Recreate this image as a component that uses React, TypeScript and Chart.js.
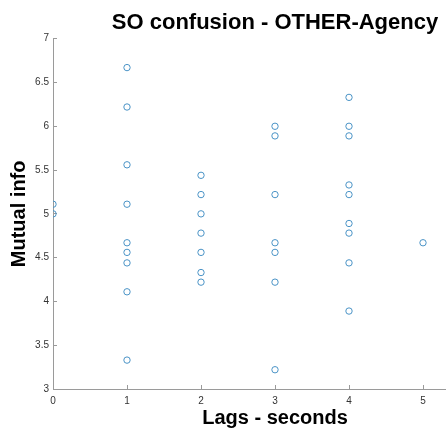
import React, { useEffect, useRef } from "react";
import { Chart, registerables } from "chart.js";

Chart.register(...registerables);

const TITLE = "SO confusion - OTHER-Agency";
const X_TITLE = "Lags - seconds";
const Y_TITLE = "Mutual info";

const lags = [
  0, 0,
  1, 1, 1, 1, 1, 1, 1, 1, 1,
  2, 2, 2, 2, 2, 2, 2,
  3, 3, 3, 3, 3, 3, 3,
  4, 4, 4, 4, 4, 4, 4, 4, 4,
  5,
];
const mutualInfo = [
  5.11, 5.0,
  6.67, 6.22, 5.56, 5.11, 4.67, 4.56, 4.44, 4.11, 3.33,
  5.44, 5.22, 5.0, 4.78, 4.56, 4.33, 4.22,
  6.0, 5.89, 5.22, 4.67, 4.56, 4.22, 3.22,
  6.33, 6.0, 5.89, 5.33, 5.22, 4.89, 4.78, 4.44, 3.89,
  4.67,
];

const X_MIN = 0;
const X_MAX = 6;
const Y_MIN = 3;
const Y_MAX = 7;

const FONT = "'Liberation Sans', Arial, Helvetica, sans-serif";
const AXIS_COLOR = "#9a9a9a";

export default function App() {
  const ref = useRef<HTMLCanvasElement | null>(null);

  useEffect(() => {
    if (!ref.current) return;
    const points = lags.map((x, i) => ({ x, y: mutualInfo[i] }));
    const chart = new Chart(ref.current, {
      type: "scatter",
      data: {
        datasets: [
          {
            data: points,
            pointStyle: "circle",
            pointRadius: 3.2,
            pointBorderWidth: 1,
            pointBorderColor: "#4a93c6",
            pointBackgroundColor: "rgba(0,0,0,0)",
          },
        ],
      },
      options: {
        animation: false,
        responsive: false,
        devicePixelRatio: 1,
        layout: { padding: 0 },
        plugins: {
          legend: { display: false },
          tooltip: { enabled: false },
          title: {
            display: true,
            text: TITLE,
            color: "#000",
            font: { family: FONT, size: 22, weight: "bold", lineHeight: 1.2 },
            padding: { top: 9.3, bottom: 3 },
          },
        },
        scales: {
          x: {
            type: "linear",
            position: "bottom",
            min: X_MIN,
            max: X_MAX,
            afterFit: (s: any) => {
              s.height = 43;
            },
            ticks: {
              stepSize: 1,
              padding: 10,
              color: "#333",
              font: { family: FONT, size: 10 },
              callback: (v: any) => String(v),
              maxRotation: 0,
            },
            grid: {
              display: true,
              drawOnChartArea: false,
              drawTicks: true,
              tickLength: -4,
              color: AXIS_COLOR,
            },
            border: { display: true, color: AXIS_COLOR, width: 1 },
            title: {
              display: true,
              text: X_TITLE,
              color: "#000",
              font: { family: FONT, size: 20, weight: "bold" },
              padding: { top: 0, bottom: 2 },
            },
          },
          y: {
            type: "linear",
            position: "left",
            min: Y_MIN,
            max: Y_MAX,
            afterFit: (s: any) => {
              s.width = 53;
            },
            ticks: {
              stepSize: 0.5,
              padding: 8,
              color: "#333",
              font: { family: FONT, size: 10 },
              callback: (v: any) => String(v),
            },
            grid: {
              display: true,
              drawOnChartArea: false,
              drawTicks: true,
              tickLength: -4,
              color: AXIS_COLOR,
            },
            border: { display: true, color: AXIS_COLOR, width: 1 },
            title: {
              display: true,
              text: Y_TITLE,
              color: "#000",
              font: { family: FONT, size: 20, weight: "bold" },
              padding: { top: 7.7, bottom: 0 },
            },
          },
          yRight: {
            type: "linear",
            position: "right",
            min: Y_MIN,
            max: Y_MAX,
            afterFit: (s: any) => {
              s.width = 53;
            },
            ticks: { display: false },
            grid: { display: false, drawTicks: false },
            border: { display: false },
            title: { display: false },
          },
        },
      },
    });
    return () => chart.destroy();
  }, []);

  return (
    <div
      style={{
        position: "fixed",
        left: 0,
        top: 0,
        width: 446,
        height: 432,
        overflow: "hidden",
        background: "#fff",
      }}
    >
      <canvas
        ref={ref}
        width={550}
        height={432}
        style={{ display: "block", width: 550, height: 432 }}
      />
    </div>
  );
}
